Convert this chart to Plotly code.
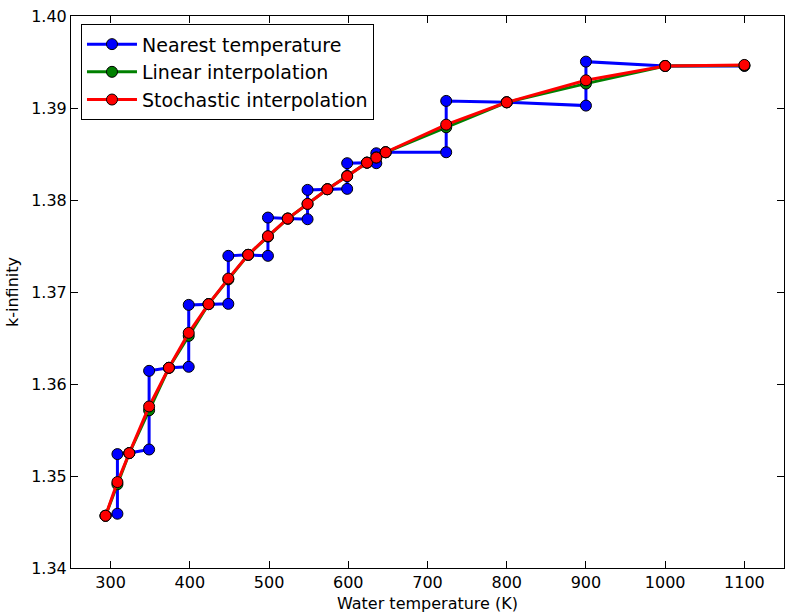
import plotly.graph_objects as go

# Evaluation temperatures (K)
temps = [293.6, 308.6, 323.6, 348.6, 373.6, 398.6, 423.6, 448.6, 473.6, 498.6,
         523.6, 548.6, 573.6, 598.6, 623.6, 635.4, 647.2, 723.6, 800.0, 900.0,
         1000.0, 1100.0]

# k-infinity with stochastic interpolation between library temperatures
k_stochastic = [1.34568, 1.34934, 1.35249, 1.35756, 1.36176, 1.36556, 1.36868,
                1.37146, 1.37404, 1.37607, 1.37798, 1.37958, 1.38117, 1.38259,
                1.38406, 1.38461, 1.38519, 1.38819, 1.39062, 1.39301, 1.39457,
                1.39468]

# k-infinity with linear interpolation
k_linear = [1.34568, 1.34910, 1.35249, 1.35714, 1.36176, 1.36523, 1.36868,
            1.37137, 1.37404, 1.37602, 1.37798, 1.37957, 1.38117, 1.38262,
            1.38406, 1.38463, 1.38519, 1.38790, 1.39062, 1.39265, 1.39457,
            1.39462]

# k-infinity with nearest library temperature (two points at each midpoint)
temps_nearest = [293.6, 308.6, 308.6, 323.6, 348.6, 348.6, 373.6, 398.6, 398.6,
                 423.6, 448.6, 448.6, 473.6, 498.6, 498.6, 523.6, 548.6, 548.6,
                 573.6, 598.6, 598.6, 623.6, 635.4, 635.4, 647.2, 723.6, 723.6,
                 800.0, 900.0, 900.0, 1000.0, 1100.0]
k_nearest = [1.34568, 1.34590, 1.35238, 1.35249, 1.35288, 1.36143, 1.36176,
             1.36187, 1.36860, 1.36868, 1.36871, 1.37393, 1.37404, 1.37393,
             1.37809, 1.37798, 1.37791, 1.38110, 1.38117, 1.38121, 1.38400,
             1.38406, 1.38400, 1.38508, 1.38519, 1.38519, 1.39077, 1.39062,
             1.39026, 1.39504, 1.39457, 1.39457]

series = [
    ("Nearest temperature", temps_nearest, k_nearest, "#0000ff"),
    ("Linear interpolation", temps, k_linear, "#008000"),
    ("Stochastic interpolation", temps, k_stochastic, "#ff0000"),
]

fig = go.Figure()
for name, xs, ys, color in series:
    fig.add_trace(go.Scatter(
        x=xs, y=ys, name=name, mode="lines+markers",
        line=dict(color=color, width=3),
        marker=dict(color=color, size=11, line=dict(color="black", width=1)),
    ))

axis_common = dict(
    showline=True, linecolor="black", linewidth=1, mirror="allticks",
    ticks="inside", ticklen=7, tickwidth=1, tickcolor="black",
    showgrid=False, zeroline=False,
    tickfont=dict(size=16, color="black"),
    title_font=dict(size=16, color="black"),
)

fig.update_xaxes(range=[250, 1150], tick0=300, dtick=100,
                 title_text="Water temperature (K)", title_standoff=6,
                 **axis_common)
fig.update_yaxes(range=[1.34, 1.40], dtick=0.01, tickformat=".2f",
                 title_text="k-infinity", title_standoff=8,
                 **axis_common)

fig.update_layout(
    width=785, height=613,
    margin=dict(l=71, r=1, t=16, b=45),
    paper_bgcolor="white", plot_bgcolor="white",
    font=dict(family="DejaVu Sans", size=16, color="black"),
    showlegend=True,
    legend=dict(
        x=0.014, y=0.985, xanchor="left", yanchor="top",
        bgcolor="white", bordercolor="black", borderwidth=1,
        font=dict(size=19), itemwidth=50, tracegroupgap=0,
    ),
)

fig.write_html("out.html")
